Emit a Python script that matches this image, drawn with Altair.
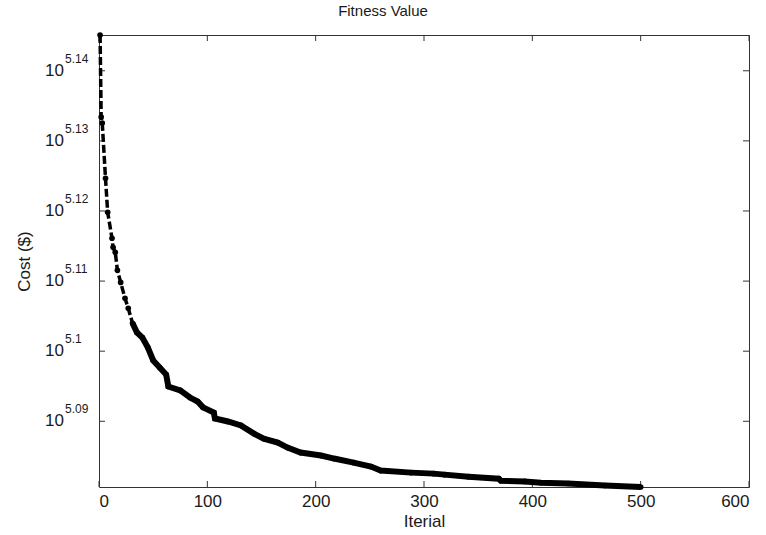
import altair as alt
import pandas as pd

# ---- data ----
iterations = [1, 2, 3, 6, 8, 12, 13, 15, 17, 20, 24, 27, 31, 35, 40, 45, 50, 56, 62, 64,
              75, 84, 91, 96, 106, 107, 119, 131, 143, 152, 165, 174, 186, 205, 217, 235,
              251, 260, 288, 309, 319, 341, 369, 371, 393, 408, 433, 467, 500]
cost = [139670, 135960, 135690, 133250, 131770, 130650, 130260, 130050, 129280, 128770,
        128100, 127680, 127050, 126670, 126460, 126050, 125510, 125220, 124930, 124440,
        124280, 123990, 123830, 123590, 123380, 123140, 123020, 122860, 122530, 122330,
        122170, 121970, 121770, 121650, 121530, 121370, 121210, 121050, 120970, 120930,
        120890, 120810, 120730, 120650, 120620, 120570, 120540, 120460, 120400]

x_ticks = [0, 100, 200, 300, 400, 500, 600]
y_tick_exponents = ["5.09", "5.1", "5.11", "5.12", "5.13", "5.14"]
y_tick_values = [123026.9, 125892.5, 128825.0, 131825.7, 134896.3, 138038.4]

W, H = 650, 452
FONT = "Liberation Sans"
INK = "#1a1a1a"

df = pd.DataFrame({"iter": iterations, "cost": cost})
xdf = pd.DataFrame({"xt": x_ticks})
ydf = pd.DataFrame({"yt": y_tick_values, "exp": y_tick_exponents})

xscale = alt.Scale(domain=[0, 600], nice=False, zero=False)
yscale = alt.Scale(type="log", domain=[min(cost), max(cost)], nice=False, zero=False)

xaxis = alt.Axis(values=x_ticks, ticks=False, domain=False, grid=False,
                 labelFont=FONT, labelFontSize=17, labelColor=INK, labelPadding=6,
                 title="Iterial", titleFont=FONT, titleFontSize=17,
                 titleFontWeight="normal", titleColor=INK, titlePadding=4)
yaxis = alt.Axis(values=y_tick_values, labels=False, ticks=False, domain=False, grid=False,
                 title="Cost ($)", titleFont=FONT, titleFontSize=17,
                 titleFontWeight="normal", titleColor=INK,
                 titleX=-75, titleY=H / 2, titleAlign="center", titleBaseline="middle")

X = alt.X("iter:Q", scale=xscale, axis=xaxis)
Y = alt.Y("cost:Q", scale=yscale, axis=yaxis)

base = alt.Chart(df)

dashed = base.mark_line(color="black", strokeWidth=3.5, strokeDash=[8, 3]).encode(x=X, y=Y)
band = base.transform_filter("datum.iter >= 30").mark_line(
    color="black", strokeWidth=6).encode(x=X, y=Y)
pts = base.mark_point(filled=True, color="black", size=32, opacity=1).encode(x=X, y=Y)

XT = alt.X("xt:Q", scale=xscale, axis=xaxis)
YT = alt.Y("yt:Q", scale=yscale, axis=yaxis)

xt_bottom = alt.Chart(xdf).mark_rule(color="#333", strokeWidth=1).encode(
    x=XT, y=alt.value(H), y2=alt.value(H - 6))
xt_top = alt.Chart(xdf).mark_rule(color="#333", strokeWidth=1).encode(
    x=XT, y=alt.value(0), y2=alt.value(6))
yt_left = alt.Chart(ydf).mark_rule(color="#333", strokeWidth=1).encode(
    y=YT, x=alt.value(0), x2=alt.value(6))
yt_right = alt.Chart(ydf).mark_rule(color="#333", strokeWidth=1).encode(
    y=YT, x=alt.value(W - 6), x2=alt.value(W))

ten = alt.Chart(ydf).mark_text(font=FONT, fontSize=17, color=INK, align="right",
                               baseline="middle").encode(
    y=YT, x=alt.value(-35), text=alt.value("10"))
expo = alt.Chart(ydf).mark_text(font=FONT, fontSize=12, color=INK, align="left",
                                baseline="bottom", dy=-5).encode(
    y=YT, x=alt.value(-34), text="exp:N")

chart = alt.layer(
    xt_bottom, xt_top, yt_left, yt_right, dashed, band, pts, ten, expo
).properties(
    width=W, height=H,
    title=alt.TitleParams("Fitness Value", font=FONT, fontSize=15, fontWeight="normal",
                          color=INK, anchor="middle", dx=-41, offset=9),
    padding={"left": 99, "top": 35, "right": 17, "bottom": 48},
    autosize=alt.AutoSizeParams(type="none"),
    background="white",
).configure_view(stroke="#333", strokeWidth=1)

chart.save("out.html", embed_options={"renderer": "svg", "actions": False})
